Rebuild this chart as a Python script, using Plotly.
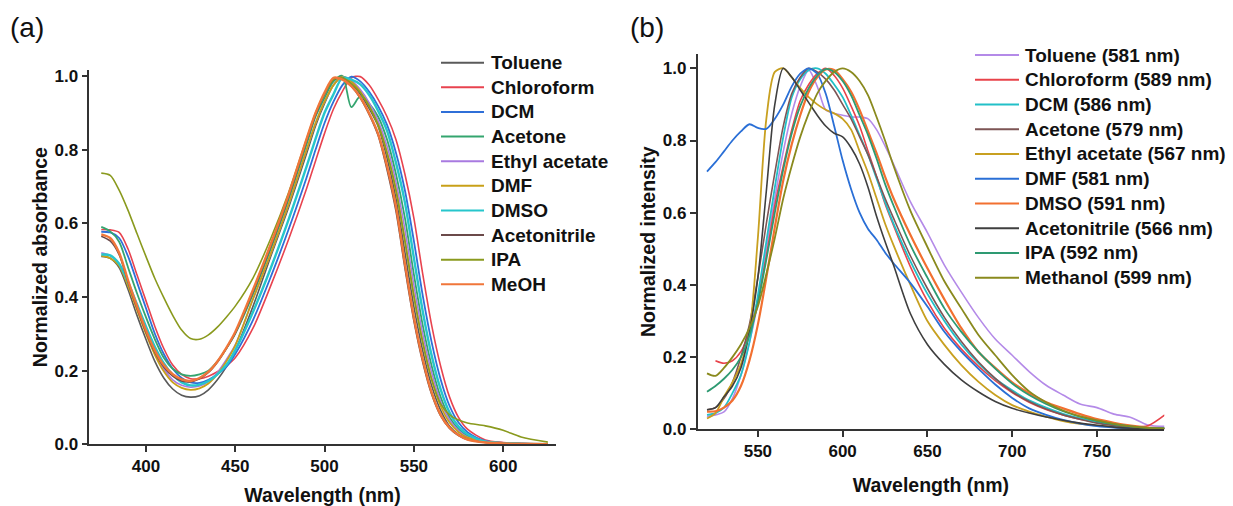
import plotly.graph_objects as go

# ---------------- Panel (a): absorption ----------------
WL_A = [375, 380, 385, 390, 395, 400, 405, 410, 415, 420, 425, 430, 435, 440, 445, 450,
        460, 470, 480, 490, 495, 500, 505, 510, 515, 520, 525, 530, 535, 540, 545, 550,
        555, 560, 565, 570, 575, 580, 590, 600, 610, 625]

SOLVENTS_A = ["Toluene", "Chloroform", "DCM", "Acetone", "Ethyl acetate", "DMF", "DMSO",
              "Acetonitrile", "IPA", "MeOH"]
COLORS_A = ["#5a5a5a", "#e8434f", "#2f6fd8", "#34a56f", "#a87ae0", "#c8a018", "#26c6cc",
            "#6b4a4a", "#8a9a1e", "#f0763a"]
WIDTHS_A = [1.6, 1.6, 1.8, 1.8, 1.6, 1.8, 2.4, 1.6, 1.6, 2.4]

toluene_a = [0.51, 0.505, 0.48, 0.42, 0.35, 0.285, 0.225, 0.18, 0.15, 0.133, 0.128, 0.132, 0.148, 0.175, 0.21, 0.255,
             0.375, 0.512, 0.645, 0.79, 0.865, 0.925, 0.975, 0.998, 0.979, 0.951, 0.911, 0.863, 0.777, 0.667, 0.521, 0.374,
             0.253, 0.158, 0.092, 0.049, 0.027, 0.015, 0.006, 0.003, 0.002, 0.001]
chloroform_a = [0.583, 0.582, 0.575, 0.53, 0.46, 0.39, 0.32, 0.26, 0.215, 0.19, 0.178, 0.178, 0.185, 0.197, 0.213, 0.235,
                0.316, 0.432, 0.558, 0.695, 0.77, 0.844, 0.91, 0.958, 0.995, 0.998, 0.975, 0.936, 0.889, 0.827, 0.733, 0.614,
                0.461, 0.322, 0.212, 0.128, 0.073, 0.041, 0.012, 0.005, 0.002, 0.001]
dcm_a = [0.577, 0.575, 0.56, 0.51, 0.44, 0.37, 0.3, 0.245, 0.205, 0.18, 0.168, 0.167, 0.175, 0.19, 0.21, 0.245,
         0.338, 0.456, 0.585, 0.725, 0.8, 0.872, 0.93, 0.975, 0.998, 0.985, 0.957, 0.918, 0.867, 0.791, 0.689, 0.552,
         0.403, 0.276, 0.176, 0.104, 0.059, 0.033, 0.009, 0.003, 0.002, 0.001]
acetone_a = [0.59, 0.578, 0.55, 0.48, 0.41, 0.345, 0.285, 0.235, 0.205, 0.19, 0.186, 0.19, 0.2, 0.225, 0.26, 0.3,
             0.408, 0.532, 0.666, 0.815, 0.89, 0.94, 0.985, 1.0, 0.915, 0.945, 0.925, 0.889, 0.827, 0.733, 0.614, 0.461,
             0.322, 0.212, 0.128, 0.073, 0.041, 0.023, 0.007, 0.003, 0.001, 0.0]
ethyl_acetate_a = [0.52, 0.512, 0.49, 0.435, 0.37, 0.305, 0.25, 0.205, 0.175, 0.16, 0.155, 0.158, 0.17, 0.195, 0.23, 0.27,
                   0.395, 0.519, 0.653, 0.8, 0.872, 0.93, 0.975, 0.998, 0.987, 0.963, 0.927, 0.878, 0.809, 0.711, 0.583, 0.432,
                   0.299, 0.194, 0.116, 0.066, 0.037, 0.02, 0.008, 0.004, 0.002, 0.001]
dmf_a = [0.512, 0.505, 0.485, 0.43, 0.365, 0.3, 0.243, 0.198, 0.168, 0.153, 0.148, 0.152, 0.165, 0.19, 0.225, 0.268,
         0.395, 0.519, 0.653, 0.8, 0.872, 0.93, 0.975, 0.998, 0.985, 0.957, 0.918, 0.867, 0.791, 0.689, 0.552, 0.403,
         0.276, 0.176, 0.104, 0.059, 0.033, 0.018, 0.007, 0.003, 0.002, 0.001]
dmso_a = [0.515, 0.513, 0.49, 0.44, 0.38, 0.32, 0.265, 0.22, 0.188, 0.168, 0.16, 0.162, 0.172, 0.19, 0.215, 0.255,
          0.36, 0.48, 0.612, 0.755, 0.83, 0.9, 0.95, 0.995, 0.99, 0.977, 0.948, 0.905, 0.851, 0.764, 0.656, 0.506,
          0.36, 0.24, 0.149, 0.086, 0.048, 0.027, 0.007, 0.003, 0.001, 0.0]
acetonitrile_a = [0.565, 0.552, 0.515, 0.44, 0.37, 0.305, 0.25, 0.21, 0.185, 0.172, 0.17, 0.178, 0.195, 0.223, 0.26, 0.302,
                  0.415, 0.54, 0.675, 0.825, 0.895, 0.95, 0.99, 0.995, 0.972, 0.94, 0.895, 0.838, 0.745, 0.632, 0.478, 0.335,
                  0.222, 0.135, 0.077, 0.043, 0.024, 0.013, 0.005, 0.002, 0.001, 0.0]
ipa_a = [0.736, 0.73, 0.69, 0.635, 0.572, 0.51, 0.45, 0.398, 0.35, 0.31, 0.287, 0.285, 0.297, 0.318, 0.345, 0.375,
         0.452, 0.56, 0.685, 0.83, 0.9, 0.952, 0.99, 0.995, 0.98, 0.955, 0.918, 0.867, 0.791, 0.689, 0.552, 0.403,
         0.276, 0.176, 0.11, 0.08, 0.066, 0.058, 0.05, 0.038, 0.02, 0.006]
meoh_a = [0.57, 0.56, 0.52, 0.445, 0.375, 0.31, 0.255, 0.215, 0.19, 0.176, 0.172, 0.18, 0.197, 0.225, 0.262, 0.305,
          0.42, 0.545, 0.68, 0.83, 0.9, 0.955, 0.995, 0.99, 0.972, 0.942, 0.898, 0.843, 0.755, 0.645, 0.49, 0.345,
          0.23, 0.14, 0.08, 0.045, 0.025, 0.013, 0.005, 0.002, 0.001, 0.0]
SERIES_A = [toluene_a, chloroform_a, dcm_a, acetone_a, ethyl_acetate_a, dmf_a, dmso_a,
            acetonitrile_a, ipa_a, meoh_a]

# ---------------- Panel (b): emission ----------------
WL_B = [520, 525, 530, 535, 540, 545, 550, 555, 560, 565, 570, 575, 580, 585, 590, 595, 600, 605,
        610, 615, 620, 625, 630, 640, 650, 660, 670, 680, 690, 700, 710, 720, 730, 740, 750, 760,
        770, 780, 790]

SOLVENTS_B = ["Toluene (581 nm)", "Chloroform (589 nm)", "DCM (586 nm)", "Acetone (579 nm)",
              "Ethyl acetate (567 nm)", "DMF (581 nm)", "DMSO (591 nm)", "Acetonitrile (566 nm)",
              "IPA (592 nm)", "Methanol (599 nm)"]
COLORS_B = ["#b48ae8", "#e8434a", "#22c0c8", "#7d5555", "#c8a020", "#2a6fd6", "#f27030",
            "#3f3f3f", "#2e9a72", "#8a8a1e"]
WIDTHS_B = [1.6, 1.6, 1.8, 1.6, 1.8, 1.8, 2.2, 1.6, 1.8, 1.8]

toluene_b = [0.035, 0.04, 0.048, 0.085, 0.15, 0.24, 0.35, 0.5, 0.64, 0.77, 0.875, 0.95, 0.995, 0.95, 0.885, 0.875,
             0.87, 0.865, 0.865, 0.86, 0.83, 0.785, 0.735, 0.63, 0.545, 0.455, 0.38, 0.31, 0.25, 0.205, 0.16, 0.122,
             0.095, 0.07, 0.06, 0.042, 0.033, 0.012, 0.008]
chloroform_b = [None, 0.19, 0.183, 0.19, 0.215, 0.27, 0.36, 0.48, 0.62, 0.73, 0.83, 0.91, 0.955, 0.985, 1.0, 0.98,
                0.945, 0.895, 0.84, 0.77, 0.7, 0.625, 0.565, 0.45, 0.355, 0.28, 0.222, 0.175, 0.135, 0.102, 0.075, 0.055,
                0.04, 0.028, 0.02, 0.013, 0.007, 0.01, 0.04]
dcm_b = [0.04, 0.045, 0.06, 0.1, 0.15, 0.24, 0.37, 0.52, 0.67, 0.81, 0.92, 0.97, 0.995, 1.0, 0.985, 0.955,
         0.92, 0.87, 0.815, 0.76, 0.695, 0.63, 0.57, 0.465, 0.375, 0.3, 0.235, 0.183, 0.14, 0.108, 0.08, 0.06,
         0.043, 0.03, 0.02, 0.012, 0.007, 0.004, 0.003]
acetone_b = [0.054, 0.06, 0.085, 0.13, 0.2, 0.29, 0.42, 0.57, 0.71, 0.84, 0.93, 0.975, 1.0, 0.99, 0.97, 0.94,
             0.9, 0.86, 0.81, 0.76, 0.7, 0.64, 0.585, 0.48, 0.39, 0.31, 0.243, 0.187, 0.141, 0.104, 0.077, 0.056,
             0.04, 0.028, 0.017, 0.01, 0.005, 0.003, 0.002]
ethyl_acetate_b = [0.03, 0.045, 0.09, 0.13, 0.18, 0.27, 0.53, 0.86, 0.99, 1.0, 0.975, 0.945, 0.92, 0.9, 0.885, 0.875,
                   0.86, 0.83, 0.77, 0.71, 0.64, 0.57, 0.51, 0.4, 0.3, 0.234, 0.178, 0.132, 0.095, 0.067, 0.049, 0.035,
                   0.023, 0.015, 0.01, 0.006, 0.003, 0.002, 0.001]
dmf_b = [0.714, 0.74, 0.77, 0.8, 0.825, 0.845, 0.835, 0.832, 0.86, 0.9, 0.95, 0.985, 1.0, 0.985, 0.93, 0.84,
         0.745, 0.665, 0.6, 0.555, 0.525, 0.49, 0.46, 0.405, 0.34, 0.27, 0.215, 0.168, 0.124, 0.087, 0.058, 0.04,
         0.026, 0.016, 0.009, 0.005, 0.003, 0.002, 0.001]
dmso_b = [0.049, 0.05, 0.06, 0.08, 0.12, 0.19, 0.29, 0.42, 0.56, 0.69, 0.79, 0.87, 0.935, 0.975, 0.997, 0.995,
          0.97, 0.935, 0.885, 0.825, 0.765, 0.7, 0.64, 0.538, 0.446, 0.36, 0.28, 0.215, 0.17, 0.13, 0.1, 0.075,
          0.058, 0.042, 0.028, 0.018, 0.01, 0.005, 0.003]
acetonitrile_b = [0.054, 0.06, 0.09, 0.12, 0.17, 0.27, 0.42, 0.66, 0.9, 1.0, 0.975, 0.94, 0.905, 0.87, 0.84, 0.82,
                  0.81, 0.78, 0.735, 0.67, 0.59, 0.52, 0.455, 0.32, 0.235, 0.18, 0.137, 0.104, 0.077, 0.058, 0.045, 0.034,
                  0.025, 0.017, 0.011, 0.006, 0.003, 0.002, 0.001]
ipa_b = [0.104, 0.12, 0.14, 0.165, 0.2, 0.26, 0.35, 0.47, 0.6, 0.72, 0.82, 0.895, 0.945, 0.98, 0.998, 0.99,
         0.965, 0.925, 0.87, 0.815, 0.75, 0.68, 0.62, 0.51, 0.42, 0.335, 0.27, 0.215, 0.168, 0.127, 0.095, 0.07,
         0.05, 0.035, 0.023, 0.014, 0.008, 0.004, 0.003]
methanol_b = [0.155, 0.148, 0.17, 0.2, 0.235, 0.28, 0.34, 0.43, 0.53, 0.64, 0.73, 0.81, 0.875, 0.93, 0.965, 0.99,
              1.0, 0.99, 0.965, 0.925, 0.865, 0.8, 0.73, 0.605, 0.505, 0.41, 0.335, 0.262, 0.205, 0.15, 0.105, 0.075,
              0.052, 0.036, 0.025, 0.015, 0.008, 0.004, 0.002]
SERIES_B = [toluene_b, chloroform_b, dcm_b, acetone_b, ethyl_acetate_b, dmf_b, dmso_b,
            acetonitrile_b, ipa_b, methanol_b]

Y_TICKS = [0.0, 0.2, 0.4, 0.6, 0.8, 1.0]
X_TICKS_A = [400, 450, 500, 550, 600]
X_TICKS_B = [550, 600, 650, 700, 750]

FONT = "Liberation Sans, Arial, sans-serif"
W, H = 1233, 506

fig = go.Figure()
for name, col, lw, ys in zip(SOLVENTS_A, COLORS_A, WIDTHS_A, SERIES_A):
    fig.add_trace(go.Scatter(x=WL_A, y=ys, name=name, mode="lines", showlegend=False,
                             line=dict(color=col, width=lw, shape="spline", smoothing=0.8),
                             xaxis="x", yaxis="y"))
for name, col, lw, ys in zip(SOLVENTS_B, COLORS_B, WIDTHS_B, SERIES_B):
    fig.add_trace(go.Scatter(x=WL_B, y=ys, name=name, mode="lines", showlegend=False,
                             line=dict(color=col, width=lw, shape="spline", smoothing=0.8),
                             xaxis="x2", yaxis="y2"))

# ---- legends drawn as line swatches + text, placed in paper pixels ----
shapes, annotations = [], []
LEG_FONT = dict(family=FONT, size=19, color="#111111", weight="bold")


def add_legend(names, colors, line_x0, line_x1, text_x, row0, step):
    for i, (nm, col) in enumerate(zip(names, colors)):
        yc = row0 + i * step
        shapes.append(dict(type="line", xref="paper", yref="paper",
                           x0=line_x0 / W, x1=line_x1 / W, y0=1 - yc / H, y1=1 - yc / H,
                           line=dict(color=col, width=2)))
        annotations.append(dict(text=nm, xref="paper", yref="paper", x=text_x / W, y=1 - yc / H,
                                xanchor="left", yanchor="middle", showarrow=False,
                                font=LEG_FONT, borderpad=0))


add_legend(SOLVENTS_A, COLORS_A, 441, 484, 489.5, 62.7, 24.62)
add_legend(SOLVENTS_B, COLORS_B, 975, 1019, 1024, 55.0, 24.74)

annotations += [
    dict(text="(a)", x=8 / W, y=1 - 27 / H, xref="paper", yref="paper",
         xanchor="left", yanchor="middle", showarrow=False,
         font=dict(family=FONT, size=28, color="#111111")),
    dict(text="(b)", x=628 / W, y=1 - 27 / H, xref="paper", yref="paper",
         xanchor="left", yanchor="middle", showarrow=False,
         font=dict(family=FONT, size=28, color="#111111")),
]

axis_common = dict(showline=True, linecolor="#333333", linewidth=1.5, ticks="outside",
                   ticklen=6, tickwidth=1.5, tickcolor="#333333", showgrid=False,
                   zeroline=False, automargin=False,
                   tickfont=dict(family=FONT, size=17, color="#111111", weight="bold"))
title_font = dict(family=FONT, size=19.5, color="#111111", weight="bold")

fig.update_layout(
    width=W, height=H, autosize=False,
    margin=dict(l=0, r=0, t=0, b=0, pad=0),
    paper_bgcolor="white", plot_bgcolor="white",
    showlegend=False,
    xaxis=dict(domain=[89.3 / W, 555.7 / W], range=[368.3, 629.4], tickvals=X_TICKS_A,
               anchor="y", title=dict(text="Wavelength (nm)", font=title_font, standoff=20),
               **axis_common),
    yaxis=dict(domain=[1 - 444.3 / H, 1 - 70 / H], range=[0, 1.016], tickvals=Y_TICKS,
               tickformat=".1f", anchor="x",
               title=dict(text="Normalized absorbance", font=title_font, standoff=2),
               **axis_common),
    xaxis2=dict(domain=[697.5 / W, 1164.3 / W], range=[514.4, 789.7], tickvals=X_TICKS_B,
                anchor="y2", title=dict(text="Wavelength (nm)", font=title_font, standoff=18),
                **axis_common),
    yaxis2=dict(domain=[1 - 429.3 / H, 1 - 54 / H], range=[0, 1.0396], tickvals=Y_TICKS,
                tickformat=".1f", anchor="x2",
                title=dict(text="Normalized intensity", font=title_font, standoff=2),
                **axis_common),
    shapes=shapes,
    annotations=annotations,
)

fig.write_html(
    "out.html",
    config={"displayModeBar": False},
    post_script="document.body.style.margin='0px';document.body.style.padding='0px';"
                "document.body.style.overflow='hidden';",
)
